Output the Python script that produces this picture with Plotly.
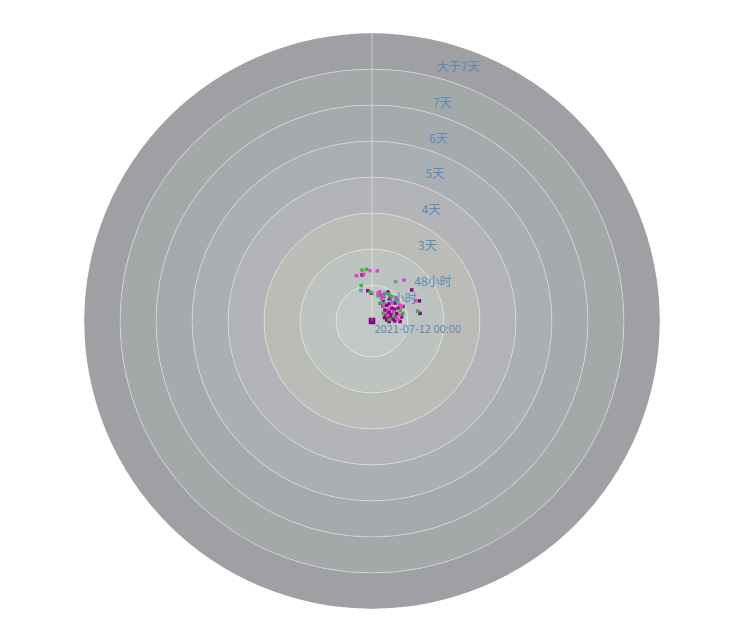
import plotly.graph_objects as go

# ---- data -------------------------------------------------------------
band_base = [0, 1, 2, 3, 4, 5, 6, 7]
band_colors = ["#c1c8c5", "#bdc4c0", "#bbbcb7", "#b3b4b8",
               "#a9afb2", "#a5aaad", "#a3a9a8", "#a09fa3"]

origin_tick_vals = [0]
origin_tick_text = ["2021-07-12 00:00"]
inner_tick_vals = [0.62]
inner_tick_text = ["24小时"]
outer_tick_vals = [1, 2, 3, 4, 5, 6, 7]
outer_tick_text = ["48小时", "3天", "4天", "5天", "6天", "7天", "大于7天"]

purple_r = [1.31, 0.85, 0.77, 0.92, 0.90, 1.40, 1.43, 1.35, 0.95, 0.77,
            0.74, 0.60, 0.47, 0.50, 0.51, 0.41, 0.59, 0.65, 0.81, 0.72,
            0.78, 0.62, 0.80, 0.83, 0.81, 0.42, 0.48, 0.63, 0.55, 0.68,
            0.57, 0.45, 0.70, 0.52, 0.36, 0.66]
purple_t = [102, 98, 91, 61, 40, 38, 23, 9, 25, 75,
            67, 47, 40, 25, 13, 4, 5, 33, 38, 17,
            359, 60, 52, 8, 26, 23, 358, 0, 30, 45,
            18, 8, 28, 55, 15, 10]

magenta_r = [1.33, 1.32, 1.40, 1.40, 1.44, 0.79, 0.79, 0.75, 0.93, 1.33,
             0.80, 0.92, 0.74, 0.51, 0.69, 0.69, 0.65, 0.84, 0.58, 0.88,
             0.46, 0.72]
magenta_t = [109, 100, 92, 84, 52, 78, 67, 64, 44, 25,
             12, 26, 42, 52, 67, 6, 24, 75, 35, 30,
             20, 3]

green_r = [1.44, 1.44, 1.03, 0.81, 0.72, 0.88, 1.30, 0.88, 0.58, 0.74,
           0.85, 0.54, 0.90, 0.87, 0.84, 0.48, 0.38, 0.62]
green_t = [101, 96, 107, 93, 76, 58, 12, 14, 57, 76,
           65, 66, 40, 51, 21, 5, 34, 13]

teal_r = [1.27, 0.90]
teal_t = [59, 110]

center_r = [0]
center_t = [0]

# ---- figure ------------------------------------------------------------
fig = go.Figure()

fig.add_trace(go.Barpolar(
    r=[1] * len(band_base), base=band_base, theta=[270] * len(band_base),
    width=[360] * len(band_base),
    marker=dict(color=band_colors,
                line=dict(color="rgba(255,255,255,0.28)", width=1)),
    hoverinfo="skip", showlegend=False, subplot="polar"))

series = [
    (purple_r, purple_t, "#7d0a80", 3.5),
    (green_r, green_t, "#3cb43c", 3.5),
    (magenta_r, magenta_t, "#f03ccc", 3.5),
    (teal_r, teal_t, "#6e9ea4", 3.5),
    (center_r, center_t, "#7d0a80", 6.5),
]
for r, t, c, s in series:
    fig.add_trace(go.Scatterpolar(
        r=r, theta=t, mode="markers",
        marker=dict(symbol="square", size=s, color=c, line=dict(width=0)),
        showlegend=False, subplot="polar"))

for sp in ("polar2", "polar3", "polar4"):
    fig.add_trace(go.Scatterpolar(r=[], theta=[], mode="markers",
                                  showlegend=False, subplot=sp))

W, H = 730, 629
cx, cy, R = 364, 313, 288  # centre (px from left / top) and radius


def domain(dx=0, dy=0):
    x0 = cx + dx - R
    yb = H - (cy + dy)
    return dict(x=[x0 / W, (x0 + 2 * R) / W], y=[(yb - R) / H, (yb + R) / H])


label_font = dict(family="Noto Sans CJK SC", size=12, color="#5b8ab8")
origin_font = dict(family="Noto Sans CJK SC", size=11, color="#5b8ab8")
hidden_ang = dict(showgrid=False, showline=False, ticks="",
                  showticklabels=False, direction="counterclockwise",
                  rotation=0)


def label_axis(vals, text, angle, font):
    return dict(range=[0, 8], angle=angle, showline=False, showgrid=False,
                ticks="", tickvals=vals, ticktext=text, tickfont=font,
                tickangle=angle, side="clockwise")


fig.update_layout(
    width=W, height=H,
    margin=dict(l=0, r=0, t=0, b=0),
    paper_bgcolor="white",
    polar=dict(
        domain=domain(), bgcolor="rgba(0,0,0,0)",
        radialaxis=dict(range=[0, 8], angle=90, showline=True,
                        linecolor="rgba(255,255,255,0.45)", linewidth=1,
                        showgrid=False, ticks="", showticklabels=False,
                        layer="above traces"),
        angularaxis=hidden_ang,
    ),
    polar2=dict(domain=domain(32, -6), bgcolor="rgba(0,0,0,0)",
                radialaxis=label_axis(outer_tick_vals, outer_tick_text, 84,
                                      label_font),
                angularaxis=hidden_ang),
    polar3=dict(domain=domain(2, 8), bgcolor="rgba(0,0,0,0)",
                radialaxis=label_axis(origin_tick_vals, origin_tick_text, 90,
                                      origin_font),
                angularaxis=hidden_ang),
    polar4=dict(domain=domain(7, 0), bgcolor="rgba(0,0,0,0)",
                radialaxis=label_axis(inner_tick_vals, inner_tick_text, 90,
                                      label_font),
                angularaxis=hidden_ang),
)

fig.write_html("out.html")
